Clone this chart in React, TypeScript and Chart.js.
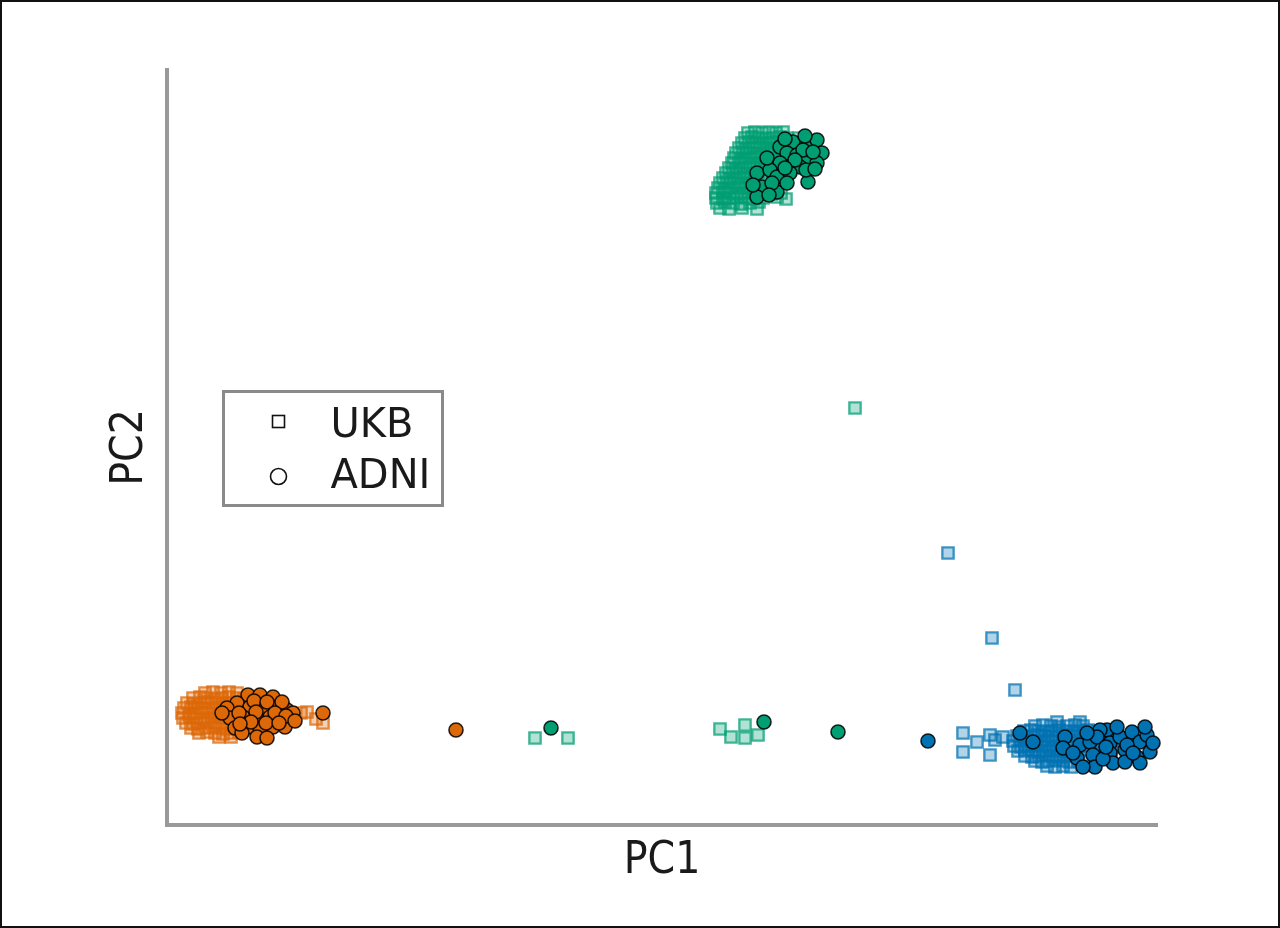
import React, { useEffect, useRef } from "react";
import { Chart, registerables } from "chart.js";

Chart.register(...registerables);

// ---- axis ranges and labels ----
const pc1Range: [number, number] = [0, 99];
const pc2Range: [number, number] = [0, 75.5];
const axisTitles = ["PC1", "PC2"];
const legendLabels = ["UKB", "ADNI"];

// ---- UKB (squares) ----
const ukbOrange: [number, number][] = [
  [3.8, 13.2], [4.6, 13.3], [5.4, 13.2], [6.2, 13.3], [7.0, 13.2],
  [2.6, 12.7], [3.3, 12.8], [4.0, 12.7], [4.8, 12.6], [5.5, 12.7], [6.2, 12.8], [7.0, 12.7], [7.7, 12.6], [8.5, 12.7],
  [2.0, 12.2], [2.7, 12.1], [3.4, 12.2], [4.1, 12.3], [4.9, 12.2], [5.6, 12.1], [6.3, 12.2], [7.1, 12.3], [7.8, 12.2], [8.8, 12.1], [9.8, 12.2],
  [1.7, 11.7], [2.4, 11.8], [3.1, 11.7], [3.8, 11.6], [4.6, 11.7], [5.3, 11.8], [6.0, 11.7], [6.8, 11.6], [7.5, 11.7], [8.4, 11.8], [9.5, 11.7], [10.6, 11.6], [11.6, 11.7],
  [1.5, 11.2], [2.2, 11.1], [2.9, 11.2], [3.6, 11.3], [4.4, 11.2], [5.1, 11.1], [5.8, 11.2], [6.6, 11.3], [7.3, 11.2], [8.2, 11.1], [9.2, 11.2], [10.3, 11.3], [11.4, 11.2], [12.5, 11.1], [13.4, 11.2],
  [1.6, 10.7], [2.3, 10.8], [3.0, 10.7], [3.7, 10.6], [4.5, 10.7], [5.2, 10.8], [5.9, 10.7], [6.7, 10.6], [7.4, 10.7], [8.3, 10.8], [9.5, 10.7], [10.8, 10.6], [12.0, 10.7],
  [1.9, 10.2], [2.6, 10.1], [3.3, 10.2], [4.0, 10.3], [4.8, 10.2], [5.5, 10.1], [6.2, 10.2], [7.0, 10.3], [7.7, 10.2], [8.8, 10.1], [10.0, 10.2], [11.3, 10.3],
  [2.4, 9.7], [3.1, 9.6], [3.8, 9.7], [4.6, 9.8], [5.3, 9.7], [6.0, 9.6], [6.8, 9.7], [7.6, 9.8], [8.6, 9.6],
  [3.2, 9.2], [4.0, 9.3], [4.8, 9.2], [5.6, 9.1], [6.4, 9.2], [7.2, 9.3],
  [5.2, 8.8], [6.4, 8.8],
  [14.0, 11.3], [14.9, 10.6], [15.6, 10.2],
];

const ukbGreen: [number, number][] = [
  [58.1, 69.2], [58.8, 69.3], [59.5, 69.2], [60.2, 69.3], [60.9, 69.2], [61.6, 69.3],
  [57.8, 68.7], [58.5, 68.8], [59.2, 68.7], [59.9, 68.6], [60.6, 68.7], [61.3, 68.8], [62.0, 68.7], [63.2, 68.7],
  [57.5, 68.2], [58.2, 68.3], [58.9, 68.2], [59.6, 68.1], [60.3, 68.2], [61.0, 68.3], [61.7, 68.2],
  [57.2, 67.7], [57.9, 67.6], [58.6, 67.7], [59.3, 67.8], [60.0, 67.7], [60.7, 67.6], [61.4, 67.7],
  [56.9, 67.2], [57.6, 67.3], [58.3, 67.2], [59.0, 67.1], [59.7, 67.2], [60.4, 67.3], [61.1, 67.2],
  [56.7, 66.7], [57.4, 66.6], [58.1, 66.7], [58.8, 66.8], [59.5, 66.7], [60.2, 66.6], [60.8, 66.7],
  [56.5, 66.2], [57.2, 66.3], [57.9, 66.2], [58.6, 66.1], [59.3, 66.2], [60.0, 66.3],
  [56.2, 65.7], [56.9, 65.6], [57.6, 65.7], [58.3, 65.8], [59.0, 65.7], [59.8, 65.6],
  [55.9, 65.2], [56.6, 65.3], [57.3, 65.2], [58.0, 65.1], [58.7, 65.2], [59.4, 65.3],
  [55.6, 64.7], [56.3, 64.6], [57.0, 64.7], [57.7, 64.8], [58.4, 64.7], [59.1, 64.6],
  [55.3, 64.2], [56.0, 64.3], [56.7, 64.2], [57.4, 64.1], [58.1, 64.2], [58.8, 64.3],
  [55.1, 63.7], [55.8, 63.6], [56.5, 63.7], [57.2, 63.8], [57.9, 63.7], [58.6, 63.6], [59.5, 63.7],
  [54.9, 63.2], [55.6, 63.3], [56.3, 63.2], [57.0, 63.1], [57.7, 63.2], [58.4, 63.3], [59.3, 63.2], [60.4, 63.1], [61.4, 63.2],
  [54.9, 62.7], [55.6, 62.6], [56.3, 62.7], [57.0, 62.8], [57.8, 62.7], [58.6, 62.6], [59.6, 62.7], [61.0, 62.8], [61.9, 62.6],
  [55.0, 62.2], [55.8, 62.3], [56.6, 62.2], [57.4, 62.1], [58.3, 62.2], [59.2, 62.3],
  [55.3, 61.7], [56.2, 61.6], [57.5, 61.7], [59.0, 61.6],
  [68.8, 41.7],
  [36.8, 8.7], [40.1, 8.7],
  [55.3, 9.6], [56.4, 8.8], [57.8, 10.0], [57.8, 8.7], [59.1, 9.0],
];

const ukbBlue: [number, number][] = [
  [86.8, 9.9], [87.6, 10.0], [88.4, 9.9], [89.2, 9.8], [90.0, 9.9], [90.8, 10.0], [91.6, 9.9],
  [85.7, 9.4], [86.4, 9.5], [87.1, 9.4], [87.8, 9.3], [88.5, 9.4], [89.2, 9.5], [89.9, 9.4], [90.6, 9.3], [91.3, 9.4], [92.1, 9.5], [93.0, 9.4],
  [85.0, 8.9], [85.7, 8.8], [86.4, 8.9], [87.1, 9.0], [87.8, 8.9], [88.5, 8.8], [89.2, 8.9], [89.9, 9.0], [90.6, 8.9], [91.4, 8.8], [92.4, 8.9], [93.6, 9.0], [94.8, 8.9],
  [84.6, 8.4], [85.3, 8.5], [86.0, 8.4], [86.7, 8.3], [87.4, 8.4], [88.1, 8.5], [88.8, 8.4], [89.5, 8.3], [90.2, 8.4], [91.0, 8.5], [92.0, 8.4], [93.2, 8.3], [94.6, 8.4], [96.1, 8.5],
  [84.7, 7.9], [85.4, 7.8], [86.1, 7.9], [86.8, 8.0], [87.5, 7.9], [88.2, 7.8], [88.9, 7.9], [89.6, 8.0], [90.3, 7.9], [91.1, 7.8], [92.2, 7.9], [93.5, 8.0], [95.0, 7.9], [96.6, 7.8],
  [85.1, 7.4], [85.8, 7.5], [86.5, 7.4], [87.2, 7.3], [87.9, 7.4], [88.6, 7.5], [89.3, 7.4], [90.0, 7.3], [90.8, 7.4], [91.8, 7.5], [93.0, 7.4], [94.4, 7.3], [96.2, 7.4],
  [85.8, 6.9], [86.5, 6.8], [87.2, 6.9], [87.9, 7.0], [88.6, 6.9], [89.3, 6.8], [90.0, 6.9], [90.8, 7.0], [91.8, 6.9], [93.2, 6.8],
  [86.8, 6.4], [87.5, 6.3], [88.2, 6.4], [88.9, 6.5], [89.6, 6.4], [90.3, 6.3], [91.1, 6.4],
  [88.0, 5.9], [88.8, 5.8], [89.6, 5.9], [90.4, 5.8],
  [89.0, 10.3], [91.3, 10.3],
  [79.6, 9.2], [79.6, 7.3], [81.0, 8.3], [82.3, 9.0], [82.3, 7.0], [82.8, 8.5], [83.6, 8.8],
  [78.1, 27.2], [82.5, 18.7], [84.8, 13.5],
];

// ---- ADNI (circles) ----
const adniOrange: [number, number][] = [
  [8.1, 13.0], [9.3, 13.0], [10.6, 12.8], [7.0, 12.2], [6.0, 11.7], [8.3, 11.8], [9.6, 11.7],
  [11.0, 11.8], [12.0, 11.5], [6.3, 10.7], [7.6, 10.8], [9.0, 10.7], [10.3, 10.8], [11.6, 10.5],
  [12.6, 11.2], [6.8, 9.7], [8.1, 9.8], [9.3, 9.7], [10.6, 9.8], [11.8, 9.8], [9.0, 8.8],
  [10.0, 8.7], [15.6, 11.2], [5.5, 11.2], [7.5, 9.2],
  [8.7, 12.4], [10.0, 12.3], [11.5, 12.3], [7.2, 11.2], [8.9, 11.3], [10.8, 11.2], [11.9, 10.9],
  [8.4, 10.3], [9.9, 10.2], [11.2, 10.2], [7.3, 10.1], [12.8, 10.4],
  [28.9, 9.5],
];

const adniGreen: [number, number][] = [
  [61.3, 67.8], [62.6, 68.3], [64.0, 67.8], [65.0, 68.5], [65.5, 67.2], [62.0, 67.2], [63.0, 67.0],
  [64.1, 66.7], [61.3, 66.2], [62.5, 66.0], [63.3, 65.8], [65.0, 66.2], [59.0, 65.2], [60.3, 65.5],
  [61.0, 64.8], [62.3, 65.2], [64.1, 64.3], [59.5, 63.8], [61.0, 63.3], [59.0, 62.8], [60.5, 64.2],
  [63.6, 67.5],
  [63.8, 68.9], [61.8, 68.6], [64.6, 67.3], [62.8, 66.5], [61.8, 65.7], [60.0, 66.7], [63.9, 65.5],
  [62.0, 64.2], [60.2, 63.0], [58.6, 64.0], [64.8, 65.6],
  [38.4, 9.7], [59.7, 10.3], [67.1, 9.3],
];

const adniBlue: [number, number][] = [
  [85.3, 9.2], [86.6, 8.3], [89.8, 8.8], [89.6, 7.7], [91.3, 8.0], [92.3, 8.3], [91.0, 6.7],
  [92.6, 7.0], [94.0, 9.5], [94.3, 8.2], [95.3, 8.8], [96.5, 9.3], [97.3, 8.3], [95.8, 7.5],
  [94.3, 7.2], [97.0, 6.8], [98.3, 7.3], [92.8, 5.8], [94.6, 6.2], [95.8, 6.3], [91.6, 5.8],
  [97.3, 6.2], [93.3, 9.5], [98.0, 9.0],
  [96.0, 8.0], [93.0, 8.8], [90.6, 7.2], [98.6, 8.2], [96.6, 7.2], [93.6, 6.6], [92.0, 9.2],
  [95.0, 9.8], [97.8, 9.8], [93.9, 7.8],
  [76.1, 8.4],
];

const ORANGE = "220,104,8";
const GREEN = "0,158,115";
const BLUE = "0,114,178";
const FONT_AXIS = "'DejaVu Sans Condensed', 'DejaVu Sans', sans-serif";
const FONT_LEGEND = "'DejaVu Sans', sans-serif";

const toPts = (a: [number, number][]) => a.map(([x, y]) => ({ x, y }));

const ukbStyle = (rgb: string) => ({
  pointStyle: "rect" as const,
  pointRadius: 8,
  pointBorderWidth: 2.4,
  pointBorderColor: `rgba(${rgb},0.72)`,
  pointBackgroundColor: `rgba(${rgb},0.3)`,
  showLine: false,
});

const adniStyle = (rgb: string) => ({
  pointStyle: "circle" as const,
  pointRadius: 7,
  pointBorderWidth: 1.6,
  pointBorderColor: "rgba(0,0,0,0.85)",
  pointBackgroundColor: `rgb(${rgb})`,
  showLine: false,
});

export default function App() {
  const ref = useRef<HTMLCanvasElement>(null);

  useEffect(() => {
    if (!ref.current) return;
    const overlay = {
      id: "frameAndLegend",
      afterDraw(chart: any) {
        const ctx = chart.ctx as CanvasRenderingContext2D;
        const area = chart.chartArea;
        ctx.save();
        // outer frame
        ctx.strokeStyle = "#111";
        ctx.lineWidth = 2;
        ctx.strokeRect(1, 1, chart.width - 2, chart.height - 2);
        // legend box
        const bx = area.left + 56.5;
        const by = area.top + 321.5;
        ctx.strokeStyle = "#8a8a8a";
        ctx.lineWidth = 3;
        ctx.strokeRect(bx, by, 219, 114);
        // markers
        ctx.strokeStyle = "#111";
        ctx.lineWidth = 1.6;
        ctx.strokeRect(bx + 49, by + 24, 12, 12);
        ctx.beginPath();
        ctx.arc(bx + 55, by + 85, 8, 0, Math.PI * 2);
        ctx.stroke();
        // labels
        ctx.fillStyle = "#1a1a1a";
        ctx.font = `40px ${FONT_LEGEND}`;
        ctx.textBaseline = "alphabetic";
        ctx.textAlign = "left";
        ctx.fillText(legendLabels[0], bx + 107, by + 45.5);
        ctx.fillText(legendLabels[1], bx + 107, by + 96.5);
        ctx.restore();
      },
    };

    const chart = new Chart(ref.current, {
      type: "scatter",
      data: {
        datasets: [
          { label: "ADNI EUR", data: toPts(adniOrange), ...adniStyle(ORANGE) },
          { label: "ADNI AFR", data: toPts(adniGreen), ...adniStyle(GREEN) },
          { label: "ADNI EAS", data: toPts(adniBlue), ...adniStyle(BLUE) },
          { label: "UKB EUR", data: toPts(ukbOrange), ...ukbStyle(ORANGE) },
          { label: "UKB AFR", data: toPts(ukbGreen), ...ukbStyle(GREEN) },
          { label: "UKB EAS", data: toPts(ukbBlue), ...ukbStyle(BLUE) },
        ] as any,
      },
      options: {
        responsive: false,
        animation: false,
        events: [],
        clip: false as any,
        layout: {
          autoPadding: false,
          padding: { left: 104.4, right: 123, top: 70, bottom: 39.8 },
        },
        plugins: {
          legend: { display: false },
          tooltip: { enabled: false },
        },
        scales: {
          x: {
            type: "linear",
            min: pc1Range[0],
            max: pc1Range[1],
            ticks: { display: false },
            grid: { display: false, drawTicks: false },
            border: { display: true, color: "#999999", width: 4 },
            title: {
              display: true,
              text: axisTitles[0],
              color: "#1a1a1a",
              font: { family: FONT_AXIS, size: 44 },
              padding: { top: 10.4, bottom: 0 },
            },
          },
          y: {
            type: "linear",
            min: pc2Range[0],
            max: pc2Range[1],
            ticks: { display: false },
            grid: { display: false, drawTicks: false },
            border: { display: true, color: "#999999", width: 4 },
            title: {
              display: true,
              text: axisTitles[1],
              color: "#1a1a1a",
              font: { family: FONT_AXIS, size: 44 },
              padding: { top: 0, bottom: 9.8 },
            },
          },
        },
      },
      plugins: [overlay],
    });
    return () => chart.destroy();
  }, []);

  return (
    <div style={{ position: "fixed", left: 0, top: 0, width: 1280, height: 928, background: "#fff" }}>
      <canvas ref={ref} width={1280} height={928} style={{ display: "block", width: 1280, height: 928 }} />
    </div>
  );
}
